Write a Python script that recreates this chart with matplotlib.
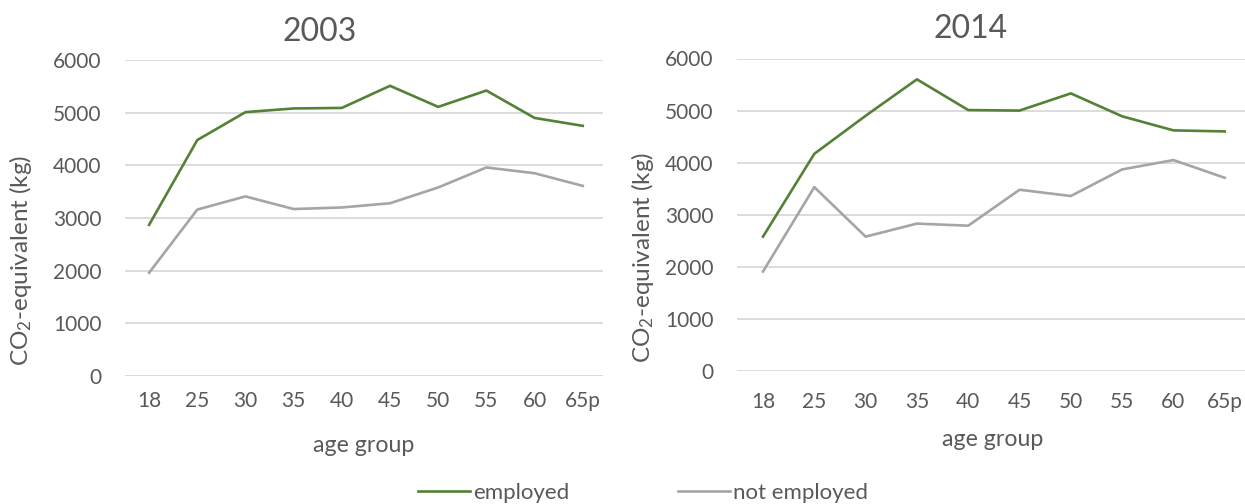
import matplotlib
matplotlib.use("Agg")
import matplotlib.pyplot as plt
from matplotlib.lines import Line2D

plt.rcParams['font.family'] = ['Lato', 'DejaVu Sans']
plt.rcParams['mathtext.fontset'] = 'custom'
plt.rcParams['mathtext.rm'] = 'Lato'
plt.rcParams['mathtext.it'] = 'Lato'

age_groups = ['18', '25', '30', '35', '40', '45', '50', '55', '60', '65p']

employed_2003 = [2870, 4480, 5010, 5080, 5090, 5510, 5110, 5420, 4900, 4750]
not_employed_2003 = [1960, 3160, 3410, 3170, 3200, 3280, 3580, 3960, 3850, 3610]

employed_2014 = [2580, 4170, 4900, 5600, 5010, 5000, 5330, 4890, 4620, 4600]
not_employed_2014 = [1910, 3530, 2580, 2830, 2790, 3480, 3360, 3870, 4050, 3710]

green = '#538135'
gray = '#A5A5A5'
text_col = '#595959'
grid_col = '#D9D9D9'

W, H = 1245, 504
fig = plt.figure(figsize=(W / 100, H / 100), dpi=100)


def px_axes(x0, x1, ytop, ybot):
    return fig.add_axes([x0 / W, (H - ybot) / H, (x1 - x0) / W, (ybot - ytop) / H])


def style(ax, xlim, xpad):
    ax.set_ylim(0, 6000)
    ax.set_xlim(*xlim)
    ax.set_yticks(range(0, 6001, 1000))
    ax.set_xticks(range(len(age_groups)))
    ax.set_xticklabels(age_groups)
    for s in ax.spines.values():
        s.set_visible(False)
    ax.grid(axis='y', color=grid_col, linewidth=1.3)
    ax.set_axisbelow(True)
    ax.tick_params(axis='both', length=0, labelsize=15, colors=text_col)
    ax.tick_params(axis='y', pad=17)
    ax.tick_params(axis='x', pad=xpad)


x = range(len(age_groups))

ax1 = px_axes(125, 603, 60, 376)
ax1.plot(x, employed_2003, color=green, linewidth=1.9)
ax1.plot(x, not_employed_2003, color=gray, linewidth=1.9)
style(ax1, (-0.5, 9.42), 11)

ax2 = px_axes(737, 1245, 58.5, 371)
ax2.plot(x, employed_2014, color=green, linewidth=1.9)
ax2.plot(x, not_employed_2014, color=gray, linewidth=1.9)
style(ax2, (-0.507, 9.395), 15)

fig.text(320 / W, 1 - 32 / H, '2003', fontsize=23, color=text_col, ha='center', va='center')
fig.text(971 / W, 1 - 29 / H, '2014', fontsize=23, color=text_col, ha='center', va='center')

ylab = 'CO$_2$-equivalent (kg)'
fig.text(21 / W, 1 - 260 / H, ylab, fontsize=17.5, color=text_col, rotation=90, ha='center', va='center')
fig.text(643 / W, 1 - 257 / H, ylab, fontsize=17.5, color=text_col, rotation=90, ha='center', va='center')

fig.text(364 / W, 1 - 445 / H, 'age group', fontsize=16.7, color=text_col, ha='center', va='center')
fig.text(993 / W, 1 - 440 / H, 'age group', fontsize=16.7, color=text_col, ha='center', va='center')

handles = [Line2D([], [], color=green, linewidth=1.9),
           Line2D([], [], color=gray, linewidth=1.9)]
fig.legend(handles, ['employed', 'not employed'], loc='center', ncol=2,
           bbox_to_anchor=(643 / W, 1 - 493 / H), frameon=False, fontsize=16,
           handlelength=2.34, handletextpad=0.15, columnspacing=4.9,
           labelcolor=text_col, borderpad=0)

fig.savefig('out.png', dpi=100)
